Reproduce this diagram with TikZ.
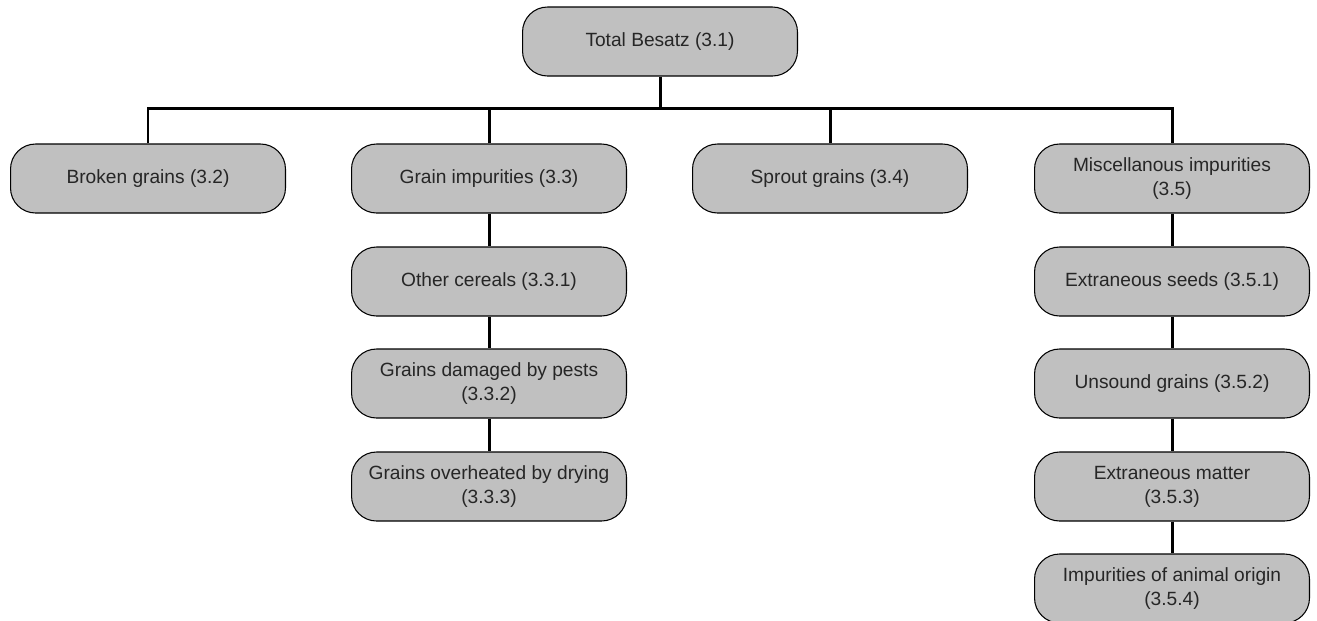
\documentclass[tikz,border=0pt]{standalone}
\usepackage{fontspec}
\setmainfont{Liberation Sans}
\usepackage{tikz}
\definecolor{boxgray}{RGB}{192,192,192}
\tikzset{
	cat/.style={draw=black, line width=0.6pt, fill=boxgray, rounded corners=0.5cm,
		minimum width=5.5cm, minimum height=1.38cm, align=center,
		font=\fontsize{10.9}{13.6}\selectfont, text=black!85},
	link/.style={line width=1.7pt}
}

\begin{document}
\begin{tikzpicture}[x=0.02cm, y=-0.02cm]
			%%%%% START %%%%%
			\useasboundingbox (0, 0) rectangle (1317, 620);
			
			\node[cat] (total) at (660, 41.5) {Total Besatz (3.1)};
			\coordinate (bar) at (660, 108);
			
			\node[cat] (broken) at (148, 178.5) {Broken grains (3.2)};
			\node[cat] (grain) at (489, 178.5) {Grain impurities (3.3)};
			\node[cat] (sprout) at (830, 178.5) {Sprout grains (3.4)};
			\node[cat] (misc) at (1172, 178.5) {Miscellanous impurities\\(3.5)};
			
			\node[cat] (cereals) at (489, 281.5) {Other cereals (3.3.1)};
			\node[cat] (pests) at (489, 383.5) {Grains damaged by pests\\(3.3.2)};
			\node[cat] (drying) at (489, 486.5) {Grains overheated by drying\\(3.3.3)};
			
			\node[cat] (seeds) at (1172, 281.5) {Extraneous seeds (3.5.1)};
			\node[cat] (unsound) at (1172, 383.5) {Unsound grains (3.5.2)};
			\node[cat] (matter) at (1172, 486.5) {Extraneous matter\\(3.5.3)};
			\node[cat] (animal) at (1172, 588.5) {Impurities of animal origin\\(3.5.4)};
			
			\draw[link] (total.south) -- (bar);
			\draw[link] (broken.north) |- (bar) -| (misc.north);
			\draw[link] (grain.north) -- (grain.north |- bar);
			\draw[link] (sprout.north) -- (sprout.north |- bar);
			
			\draw[link] (grain) -- (cereals);
			\draw[link] (cereals) -- (pests);
			\draw[link] (pests) -- (drying);
			
			\draw[link] (misc) -- (seeds);
			\draw[link] (seeds) -- (unsound);
			\draw[link] (unsound) -- (matter);
			\draw[link] (matter) -- (animal);
			
			%%%%% END %%%%%
\end{tikzpicture}
\end{document}
